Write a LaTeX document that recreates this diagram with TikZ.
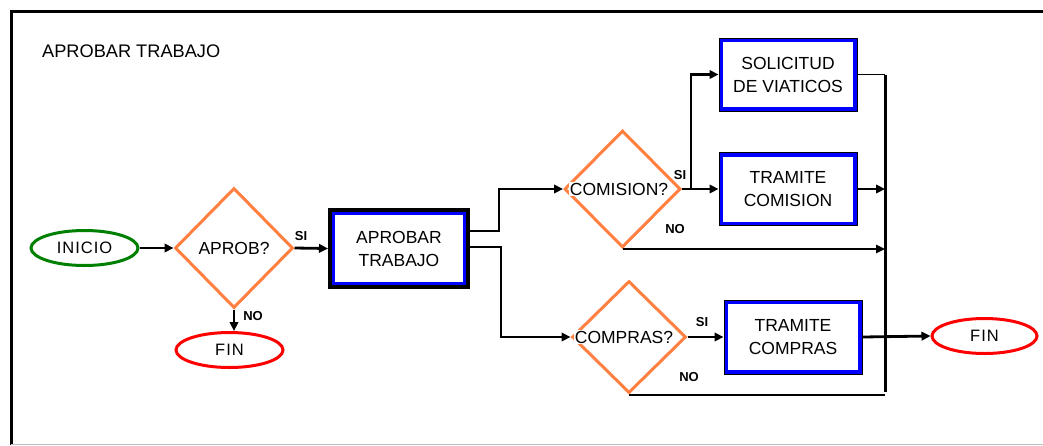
\documentclass[tikz,border=0pt]{standalone}
\usepackage{fontspec}
\setmainfont{Liberation Sans}
\newfontfamily\spacedfont[LetterSpace=6]{Liberation Sans}
\usetikzlibrary{shapes.geometric,arrows.meta}
\definecolor{dorange}{RGB}{255,128,64}
\definecolor{dgreen}{RGB}{0,128,0}
\definecolor{dblue}{RGB}{0,0,255}
\begin{document}
\begin{tikzpicture}[x=1pt,y=-1pt,
  term/.style={ellipse, draw=#1, line width=3pt, minimum width=107pt, minimum height=35pt, inner sep=0pt, font=\spacedfont\fontsize{16.5}{18}\selectfont},
  decision/.style={diamond, draw=dorange, line width=3pt, inner sep=0pt, aspect=1},
  dtext/.style={fill=white, inner sep=0.5pt, font=\fontsize{17.5}{20}\selectfont},
  stepbox/.style={rectangle, draw=black, line width=1pt, minimum width=138pt, minimum height=73pt, inner sep=0pt, align=center, font=\fontsize{17.5}{23}\selectfont,
    path picture={\draw[dblue, line width=8pt] (path picture bounding box.south west) rectangle (path picture bounding box.north east);}},
  mainbox/.style={rectangle, draw=black, line width=4pt, minimum width=138pt, minimum height=77pt, inner sep=0pt, align=center, font=\fontsize{17.5}{23}\selectfont,
    path picture={\draw[dblue, line width=10pt] (path picture bounding box.south west) rectangle (path picture bounding box.north east);}},
  yn/.style={font=\bfseries\fontsize{13}{13}\selectfont, inner sep=0pt},
  conn/.style={line width=2.8pt, -{Triangle[length=9pt,width=8.5pt]}},
  thinconn/.style={line width=1.5pt, -{Triangle[length=9pt,width=8.5pt]}}
]
\useasboundingbox[fill=white] (0,0) rectangle (1043,445);
% frame
\draw[line width=3pt] (11,445) -- (11,11) -- (1043,11);
\draw[black!25, line width=1pt] (11,444) -- (1043,444);

\node[anchor=west, inner sep=0pt, font=\fontsize{18.2}{20}\selectfont] (title) at (42,51) {APROBAR TRABAJO};

\node[term=dgreen] (inicio) at (84.5,248) {INICIO};
\node[decision, minimum width=118pt, minimum height=120pt] (aprob) at (234,248) {};
\node[dtext] (aprobtxt) at (aprob) {APROB?};
\node[mainbox] (aprobar) at (399,248.5) {APROBAR\\TRABAJO};
\node[term=red] (fin1) at (229.5,350) {FIN};

\node[decision, minimum width=116pt, minimum height=117pt] (comision) at (622.5,189) {};
\node[dtext] (comisiontxt) at (619,189) {COMISION?};
\node[stepbox] (solicitud) at (788,74.5) {SOLICITUD\\DE VIATICOS};
\node[stepbox] (tramcom) at (788,189) {TRAMITE\\COMISION};

\node[decision, minimum width=114pt, minimum height=112pt] (compras) at (629,337) {};
\node[dtext] (comprastxt) at (624,337) {COMPRAS?};
\node[stepbox, minimum height=74pt] (tramcompras) at (793,337) {TRAMITE\\COMPRAS};
\node[term=red, minimum width=105pt] (fin2) at (984.5,336) {FIN};

\coordinate (split) at (691,189);
\coordinate (bustop) at (885,74.5);
\coordinate (busbot) at (885,392);

% connectors
\draw[conn] (inicio.east) -- (aprob.west);
\draw[conn] (aprob.east) -- (aprobar.west);
\draw[conn] (aprob.south) -- (aprob.south |- fin1.north);
\draw[conn] (aprobar.east |- 0,231) -- ++(29,0) |- (comision.west);
\draw[conn] (aprobar.east |- 0,247) -- ++(31,0) |- (compras.west);
\draw[conn] (comision.east) -- (tramcom.west);
\draw[conn] (split) |- (solicitud.west);
\draw[line width=1.2pt] (solicitud.east) -- (bustop);
\draw[line width=3pt] (bustop) -- (busbot);
\draw[conn] (tramcom.east) -- (tramcom.east -| bustop);
\draw[thinconn] (comision.south) -- (comision.south -| bustop);
\draw[line width=2pt] (compras.south) -- (compras.south -| busbot);
\draw[conn] (compras.east) -- (tramcompras.west);
\draw[conn] (tramcompras.east) -- (fin2.west);

% labels
\node[yn] (si1) at (301,236) {SI};
\node[yn] (no1) at (253,316) {NO};
\node[yn] (si2) at (680,175) {SI};
\node[yn] (no2) at (675,229) {NO};
\node[yn] (si3) at (702,322) {SI};
\node[yn] (no3) at (689,377) {NO};
\end{tikzpicture}
\end{document}
